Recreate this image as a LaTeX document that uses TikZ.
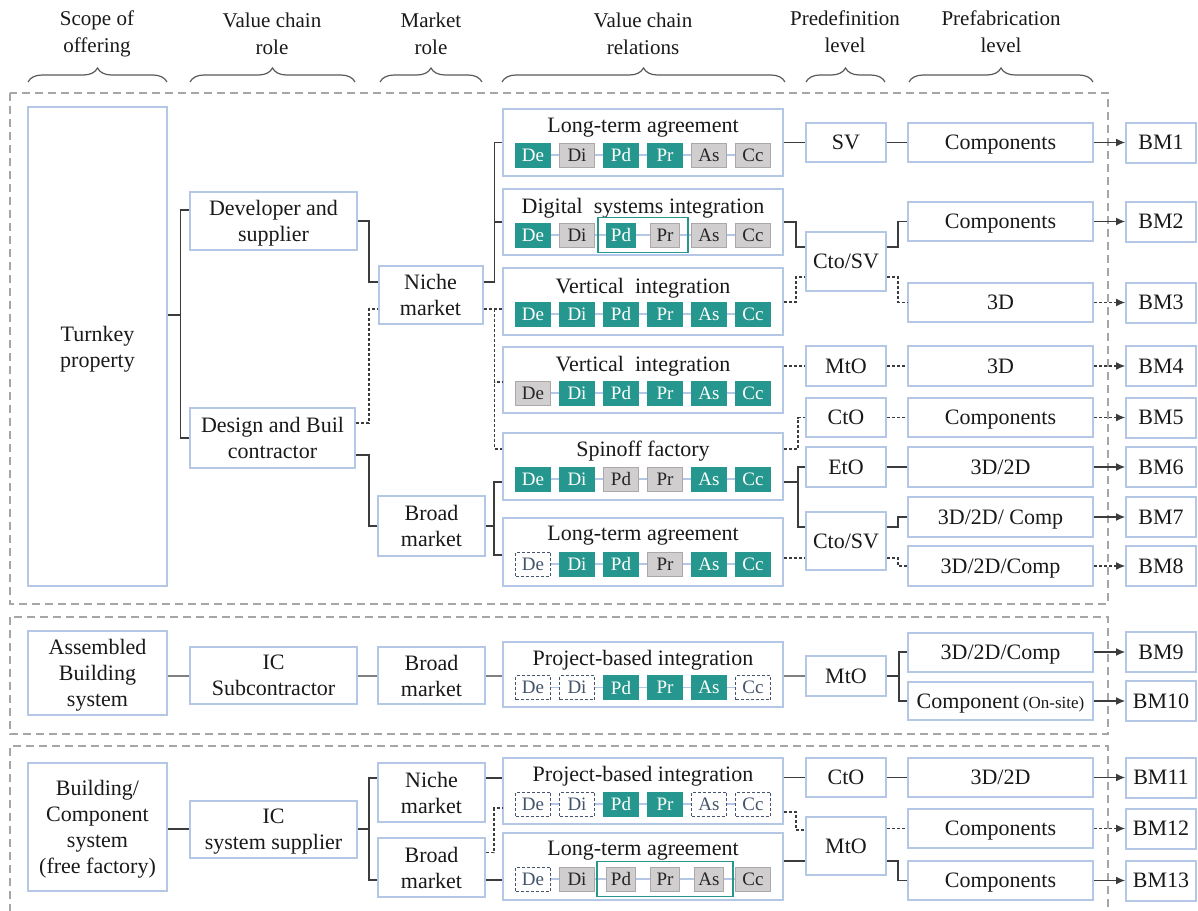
\documentclass[tikz,border=0pt]{standalone}
\usepackage{fontspec}
\setmainfont{Liberation Serif}
\usetikzlibrary{calc,arrows.meta,decorations.pathreplacing,fit}
\definecolor{boxblue}{RGB}{180,199,231}
\definecolor{teal1}{RGB}{38,151,142}
\definecolor{tgray}{RGB}{208,206,206}
\definecolor{tgrayb}{RGB}{172,168,168}
\definecolor{conn}{RGB}{60,60,60}
\definecolor{gconn}{RGB}{128,128,128}
\definecolor{dgray}{RGB}{166,166,166}
\definecolor{dtext}{RGB}{68,84,106}
\definecolor{brc}{RGB}{89,89,89}
\tikzset{
  wh/.style 2 args={minimum width=#1*0.5pt, minimum height=#2*0.5pt},
  base/.style={draw=boxblue, line width=1pt, inner sep=0pt, align=center, text depth=0pt,
    font=\fontsize{11}{13}\selectfont, text=black!90},
  ttl/.style={inner sep=0pt, text depth=0pt, font=\fontsize{11}{13}\selectfont, text=black!90},
  hdr/.style={inner sep=0pt, align=center, font=\fontsize{10.5}{13.5}\selectfont, text=black!90},
  tag/.style={inner sep=0pt, minimum width=17.5pt, minimum height=12pt,
    font=\fontsize{9.5}{10}\selectfont, line width=0.5pt},
  tT/.style={fill=teal1, draw=teal1, text=white},
  tG/.style={fill=tgray, draw=tgrayb, text=black!85},
  tD/.style={fill=white, draw=dtext, dash pattern=on 1.5pt off 1pt, text=dtext},
  tTn/.style={tT, minimum width=14.5pt},
  tGn/.style={tG, minimum width=14.5pt},
  tagline/.style={draw=boxblue, line width=0.6pt},
  grp/.style={draw=teal1, line width=0.9pt, inner sep=0pt},
  cl/.style={draw=conn, line width=0.55pt},
  cld/.style={cl, dash pattern=on 1.5pt off 1pt},
  gl/.style={draw=gconn, line width=1pt},
  arr/.style={cl, -{Latex[length=4.5pt,width=4pt]}},
  arrd/.style={cld, -{Latex[length=4.5pt,width=4pt]}},
  blk/.style={draw=dgray, line width=0.7pt, dash pattern=on 4pt off 2.5pt},
  brc/.style={draw=brc, line width=0.6pt, decorate, decoration={brace, amplitude=7pt}},
}
\newcommand\tagrow[7]{%
  \foreach \lab/\sty/\dx [count=\i] in {De/#2/-110, Di/#3/-66, Pd/#4/-22, Pr/#5/22, As/#6/66, Cc/#7/110}
    \node[tag,\sty] (#1-\i) at ($(#1.north)+(\dx,47)$) {\lab};
  \draw[tagline] (#1-1) -- (#1-2) -- (#1-3) -- (#1-4) -- (#1-5) -- (#1-6);
}
\begin{document}
\begin{tikzpicture}[x=0.5pt,y=-0.5pt]
\useasboundingbox (0,0) rectangle (1198,910);

% headers
\node[hdr] (h1) at (97,34) {Scope of\\offering};
\node[hdr] (h2) at (272,34) {Value chain\\role};
\node[hdr] (h3) at (431,34) {Market\\role};
\node[hdr] (h4) at (643,34) {Value chain\\relations};
\node[hdr] (h5) at (845,32) {Predefinition\\level};
\node[hdr] (h6) at (1001,32) {Prefabrication\\level};
\draw[brc] (28,82) -- (167,82);
\draw[brc] (190,82) -- (355,82);
\draw[brc] (380,82) -- (482,82);
\draw[brc] (502,82) -- (785,82);
\draw[brc] (806,82) -- (885,82);
\draw[brc] (909,82) -- (1093,82);

% block frames
\draw[blk] (10,93) rectangle (1108,604);
\draw[blk] (10,617) rectangle (1108,734);
\draw[blk] (10,912) -- (10,746) -- (1108,746) -- (1108,912);

% ---------- block 1 ----------
\node[base,wh={139}{479}] (tp) at (97.5,346.5) {Turnkey\\property};
\node[base,wh={167}{58}] (dev) at (273.5,221) {Developer and\\supplier};
\node[base,wh={165}{60}] (dbc) at (272.5,438) {Design and Buil\\contractor};
\node[base,wh={104}{58}] (nm1) at (430.5,295) {Niche\\market};
\node[base,wh={107}{60}] (bmk1) at (431.5,526) {Broad\\market};

\node[base,wh={280}{67}] (r1) at (643,142.5) {};
\node[base,wh={280}{66}] (r2) at (643,222) {};
\node[base,wh={280}{67}] (r3) at (643,301.5) {};
\node[base,wh={280}{66}] (r4) at (643,380) {};
\node[base,wh={280}{67}] (r5) at (643,466.5) {};
\node[base,wh={280}{68}] (r6) at (643,552) {};
\node[ttl] (r1t) at ($(r1.north)+(0,17.5)$) {Long-term agreement};
\node[ttl] (r2t) at ($(r2.north)+(0,17.5)$) {Digital\ \ systems integration};
\node[ttl] (r3t) at ($(r3.north)+(0,18.5)$) {Vertical\ \ integration};
\node[ttl] (r4t) at ($(r4.north)+(0,17.5)$) {Vertical\ \ integration};
\node[ttl] (r5t) at ($(r5.north)+(0,16.5)$) {Spinoff factory};
\node[ttl] (r6t) at ($(r6.north)+(0,16.5)$) {Long-term agreement};
\tagrow{r1}{tT}{tG}{tT}{tT}{tG}{tG}
\tagrow{r2}{tT}{tG}{tTn}{tGn}{tG}{tG}
\node[grp, fit=(r2-3)(r2-4), inner xsep=4pt, inner ysep=2.5pt] (g2) {};
\tagrow{r3}{tT}{tT}{tT}{tT}{tT}{tT}
\tagrow{r4}{tG}{tT}{tT}{tT}{tT}{tT}
\tagrow{r5}{tT}{tT}{tG}{tG}{tT}{tT}
\tagrow{r6}{tD}{tT}{tT}{tG}{tT}{tT}

\node[base,wh={80}{39}] (sv) at (846,142.5) {SV};
\node[base,wh={80}{59}] (cs1) at (846,261.5) {Cto/SV};
\node[base,wh={80}{40}] (mo1) at (846,366) {MtO};
\node[base,wh={80}{39}] (co1) at (846,417.5) {CtO};
\node[base,wh={80}{40}] (eto) at (846,467) {EtO};
\node[base,wh={80}{58}] (cs2) at (846,541) {Cto/SV};

\node[base,wh={185}{39}] (f1) at (1000.5,142.5) {Components};
\node[base,wh={185}{39}] (f2) at (1000.5,221.5) {Components};
\node[base,wh={185}{39}] (f3) at (1000.5,302.5) {3D};
\node[base,wh={185}{40}] (f4) at (1000.5,366) {3D};
\node[base,wh={185}{39}] (f5) at (1000.5,417.5) {Components};
\node[base,wh={185}{40}] (f6) at (1000.5,467) {3D/2D};
\node[base,wh={185}{40}] (f7) at (1000.5,517) {3D/2D/ Comp};
\node[base,wh={185}{40}] (f8) at (1000.5,566) {3D/2D/Comp};

\node[base,wh={70}{40}] (b1) at (1161,142.5) {BM1};
\node[base,wh={70}{40}] (b2) at (1161,221.5) {BM2};
\node[base,wh={70}{40}] (b3) at (1161,302.5) {BM3};
\node[base,wh={70}{40}] (b4) at (1161,366) {BM4};
\node[base,wh={70}{40}] (b5) at (1161,417.5) {BM5};
\node[base,wh={70}{40}] (b6) at (1161,467) {BM6};
\node[base,wh={70}{40}] (b7) at (1161,517) {BM7};
\node[base,wh={70}{40}] (b8) at (1161,566) {BM8};

% connectors block 1
\coordinate (tpj) at ($(tp.east)+(12.5,-31.5)$);
\draw[cl] ($(tp.east)+(0,-31.5)$) -- (tpj);
\draw[cl] ($(dev.west)+(0,-11)$) -| (tpj) |- (dbc.west);
\draw[cl] (dev.east) -- ++(11,0) |- ($(nm1.west)+(0,-13)$);
\draw[cld] ($(dbc.east)+(0,-15)$) -- ++(13,0) |- ($(nm1.west)+(0,14)$);
\draw[cl] ($(dbc.east)+(0,17)$) -- ++(13,0) |- (bmk1.west);
\coordinate (nj1) at ($(nm1.east)+(11,-13)$);
\draw[cl] ($(nm1.east)+(0,-13)$) -- (nj1);
\draw[cl] (r1.west) -| (nj1);
\draw[cl] (nj1) |- (r2.west);
\coordinate (nj2) at ($(nm1.east)+(11,14)$);
\draw[cld] ($(nm1.east)+(0,14)$) -- ($(r3.west)+(0,7.5)$);
\draw[cld] (nj2) |- ($(r4.west)+(0,2)$);
\draw[cld] (nj2) |- ($(r5.west)+(0,-17.5)$);
\coordinate (bj) at ($(bmk1.east)+(8,0)$);
\draw[cl] (bmk1.east) -- (bj);
\draw[cl] (bj) |- ($(r5.west)+(0,15.5)$);
\draw[cl] (bj) |- ($(r6.west)+(0,3)$);

\draw[cl] (r1.east) -- (sv.west);
\draw[cl] (sv) -- (f1);
\draw[arr] (f1) -- (b1);
\draw[cl] (r2.east) -- ++(12,0) |- ($(cs1.west)+(0,-14.5)$);
\draw[cld] ($(r3.east)+(0,0.5)$) -- ++(12,0) |- ($(cs1.west)+(0,15.5)$);
\draw[cl] ($(cs1.east)+(0,-14.5)$) -- ++(11,0) |- (f2.west);
\draw[cld] ($(cs1.east)+(0,15.5)$) -- ++(11,0) |- (f3.west);
\draw[arr] (f2) -- (b2);
\draw[arrd] (f3) -- (b3);
\draw[cld] ($(r4.east)+(0,-14)$) -- (mo1.west);
\draw[cld] (mo1) -- (f4);
\draw[arrd] (f4) -- (b4);
\draw[cld] ($(r5.east)+(0,-17.5)$) -- ++(14,0) |- (co1.west);
\draw[cld] (co1) -- (f5);
\draw[arrd] (f5) -- (b5);
\coordinate (rj5) at ($(r5.east)+(14,15.5)$);
\draw[cl] ($(r5.east)+(0,15.5)$) -- (rj5);
\draw[cl] (rj5) |- (eto.west);
\draw[cl] (rj5) |- ($(cs2.west)+(0,-14)$);
\draw[cl] (eto) -- (f6);
\draw[arr] (f6) -- (b6);
\draw[cld] ($(r6.east)+(0,6)$) -- ($(cs2.west)+(0,17)$);
\draw[cl] ($(cs2.east)+(0,-14)$) -- ++(11,0) |- (f7.west);
\draw[cld] ($(cs2.east)+(0,17)$) -- ++(11,0) |- (f8.west);
\draw[arr] (f7) -- (b7);
\draw[arrd] (f8) -- (b8);

% ---------- block 2 ----------
\node[base,wh={139}{84}] (abs) at (97.5,673) {Assembled\\Building\\system};
\node[base,wh={167}{57}] (ics) at (273.5,675.5) {IC\\Subcontractor};
\node[base,wh={107}{57}] (bmk2) at (431.5,675.5) {Broad\\market};
\node[base,wh={280}{65}] (p2) at (643,674) {};
\node[ttl] (p2t) at ($(p2.north)+(0,17.5)$) {Project-based integration};
\tagrow{p2}{tD}{tD}{tT}{tT}{tT}{tD}
\node[base,wh={80}{40}] (mo2) at (846,676) {MtO};
\node[base,wh={185}{39}] (f9) at (1000.5,652) {3D/2D/Comp};
\node[base,wh={185}{38}] (f10) at (1000.5,701) {Component\,{\fontsize{8.5}{10}\selectfont(On-site)}};
\node[base,wh={70}{40}] (b9) at (1161,652) {BM9};
\node[base,wh={70}{40}] (b10) at (1161,701) {BM10};
\draw[gl] ($(abs.east)+(0,2.5)$) -- (ics.west);
\draw[gl] (ics) -- (bmk2);
\draw[gl] (bmk2.east) -- ($(p2.west)+(0,1.5)$);
\draw[gl] ($(p2.east)+(0,1.5)$) -- ($(mo2.west)+(0,-0.5)$);
\coordinate (mj2) at ($(mo2.east)+(12,0)$);
\draw[cl] (mo2.east) -- (mj2);
\draw[cl] (mj2) |- (f9.west);
\draw[cl] (mj2) |- (f10.west);
\draw[arr] (f9) -- (b9);
\draw[arr] (f10) -- (b10);

% ---------- block 3 ----------
\node[base,wh={139}{128}] (bcs) at (97.5,827) {Building/\\Component\\system\\(free factory)};
\node[base,wh={167}{57}] (isup) at (273.5,829) {IC\\system supplier};
\node[base,wh={107}{59}] (nm3) at (431.5,792.5) {Niche\\market};
\node[base,wh={107}{59}] (bmk3) at (431.5,867.5) {Broad\\market};
\node[base,wh={280}{66}] (p3) at (643,791) {};
\node[ttl] (p3t) at ($(p3.north)+(0,16.5)$) {Project-based integration};
\tagrow{p3}{tD}{tD}{tT}{tT}{tD}{tD}
\node[base,wh={280}{67}] (l3) at (643,866.5) {};
\node[ttl] (l3t) at ($(l3.north)+(0,16.5)$) {Long-term agreement};
\tagrow{l3}{tD}{tG}{tGn}{tGn}{tGn}{tG}
\node[grp, fit=(l3-3)(l3-5), inner xsep=4.5pt, inner ysep=2.5pt] (g3) {};
\node[base,wh={80}{39}] (co3) at (846,777.5) {CtO};
\node[base,wh={80}{58}] (mo3) at (846,846) {MtO};
\node[base,wh={185}{39}] (f11) at (1000.5,777.5) {3D/2D};
\node[base,wh={185}{39}] (f12) at (1000.5,828.5) {Components};
\node[base,wh={185}{39}] (f13) at (1000.5,880.5) {Components};
\node[base,wh={70}{40}] (b11) at (1161,777.5) {BM11};
\node[base,wh={70}{40}] (b12) at (1161,828.5) {BM12};
\node[base,wh={70}{40}] (b13) at (1161,880.5) {BM13};

\draw[cl] ($(bcs.east)+(0,2)$) -- (isup.west);
\coordinate (ij) at ($(isup.east)+(11,0)$);
\draw[cl] (isup.east) -- (ij);
\draw[cl] (ij) |- ($(nm3.west)+(0,-14.5)$);
\draw[cl] (ij) |- ($(bmk3.west)+(0,12.5)$);
\draw[cl] ($(nm3.east)+(0,-14.5)$) -- ($(p3.west)+(0,-13)$);
\draw[cld] ($(bmk3.east)+(0,-15)$) -- ++(8,0) |- ($(p3.west)+(0,17)$);
\draw[cl] ($(bmk3.east)+(0,12.5)$) -- ($(l3.west)+(0,13.5)$);
\draw[cl] ($(p3.east)+(0,-13.5)$) -- (co3.west);
\draw[cld] ($(p3.east)+(0,21)$) -- ++(12,0) |- ($(mo3.west)+(0,-16)$);
\draw[cl] ($(l3.east)+(0,-5.5)$) -- ($(mo3.west)+(0,15)$);
\draw[cl] (co3) -- (f11);
\draw[cld] ($(mo3.east)+(0,-17.5)$) -- (f12.west);
\draw[cl] ($(mo3.east)+(0,15)$) -- ++(11,0) |- (f13.west);
\draw[arr] (f11) -- (b11);
\draw[arrd] (f12) -- (b12);
\draw[arr] (f13) -- (b13);
\end{tikzpicture}
\end{document}
